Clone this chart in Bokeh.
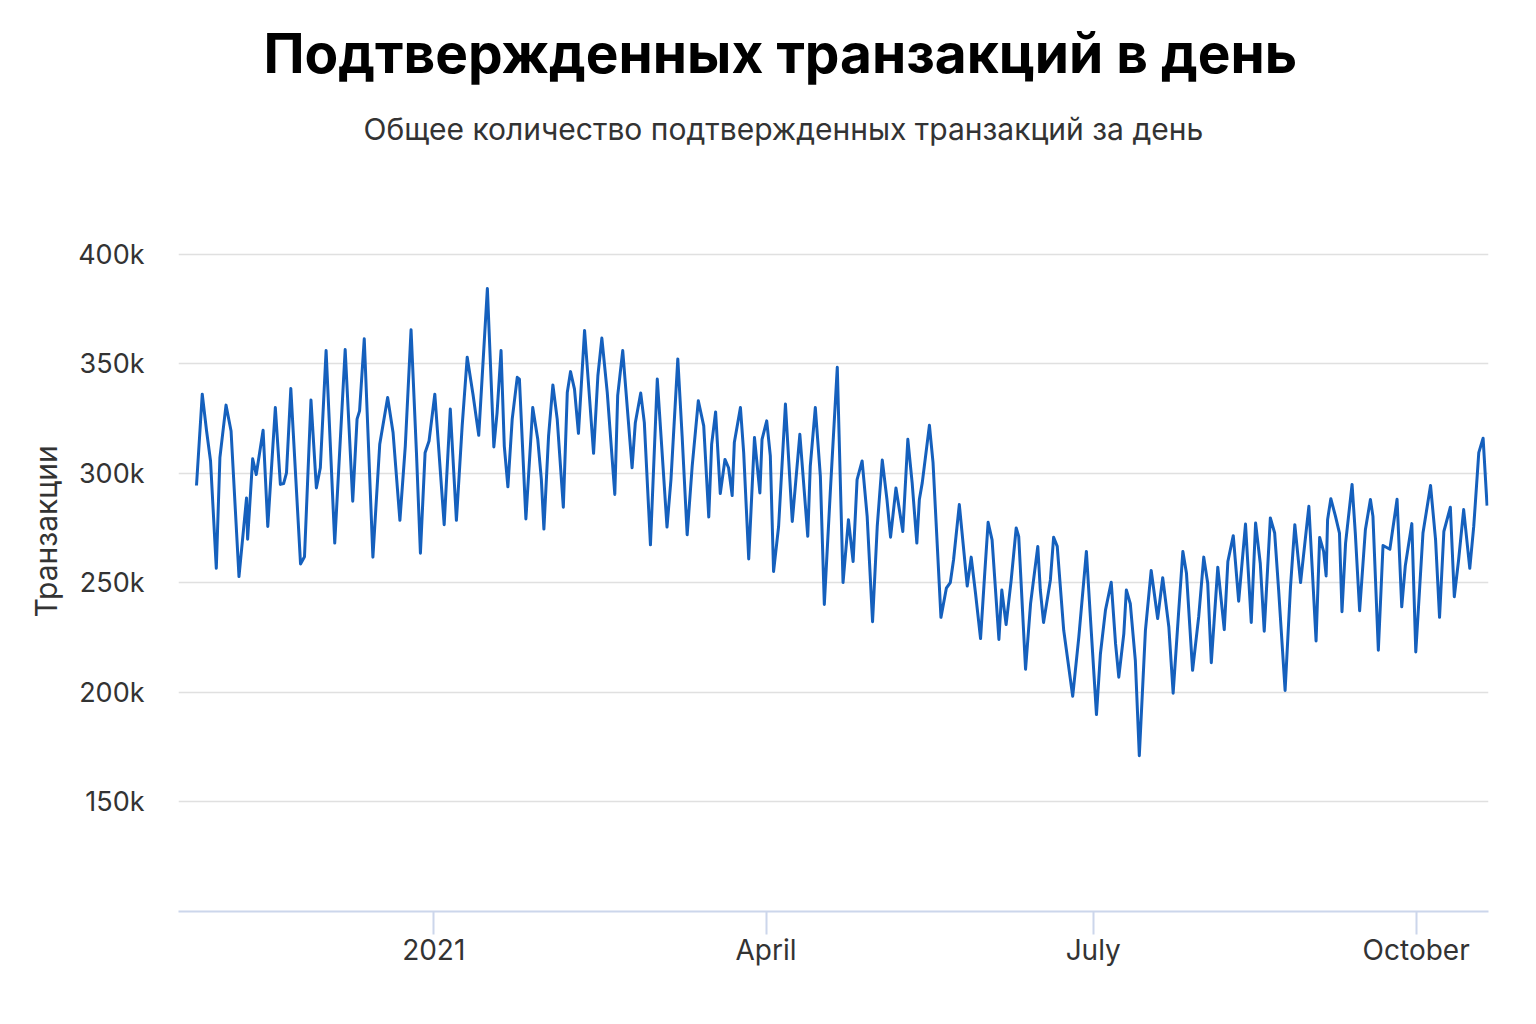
import pandas as pd
from bokeh.plotting import figure
from bokeh.models import Title, FixedTicker, NumeralTickFormatter, Range1d, ColumnDataSource
from bokeh.embed import file_html
from bokeh.resources import INLINE

# ---- data ----
base_date = "2021-01-01"
# days relative to base_date of each visible turning point of the line
day_offsets = [
    -65.9, -64.3, -63.1, -62.0, -60.4, -59.4, -57.7, -56.3, -54.1, -52.0,
    -51.7, -50.3, -49.3, -47.4, -46.1, -44.0, -42.6, -41.7, -40.9, -39.7,
    -37.0, -35.9, -34.1,
    -32.6, -31.5, -29.9, -27.5, -24.6, -22.5, -21.3, -20.6, -19.3, -16.9,
    -15.0, -12.8, -11.3, -9.4, -7.9, -6.3, -4.8, -3.7, -2.4, -1.3, 0.3,
    2.9, 4.6, 6.3, 7.9, 9.3, 10.9, 12.5, 14.9, 16.7, 17.6,
    18.7, 19.6, 20.6, 21.8, 23.2, 23.8, 25.6, 27.5, 28.9, 29.9,
    30.6, 31.9, 33.1, 34.3, 36.0, 37.1, 38.0,
    39.1, 40.2, 41.9, 43.3, 44.4, 45.6, 46.7, 48.2, 50.3, 51.1,
    52.5, 55.1, 56.0, 57.5, 58.5, 60.2, 62.1, 63.2, 64.8, 65.9,
    67.8, 69.0, 70.4, 71.8, 73.5, 75.0, 76.4, 77.2, 78.3,
    79.6, 80.9, 81.9, 82.9, 83.5, 85.2, 86.1, 87.5, 89.1, 90.6,
    91.2, 92.5, 93.5, 94.4, 95.8, 97.7, 99.6, 101.7, 103.9, 104.6,
    106.0, 107.4, 108.5, 110.2, 112.1, 113.7, 115.2,
    116.5, 117.6, 119.0, 120.4, 121.9, 123.2, 124.6, 125.9, 126.9, 128.4,
    130.3, 131.7, 132.9, 134.2, 134.9, 135.7, 137.7, 138.7, 140.9, 142.4,
    143.5, 144.4, 146.0, 148.2, 149.3, 150.5, 151.9, 153.0, 154.0, 155.1,
    157.0, 157.8, 159.0, 160.4, 161.8, 162.5, 164.4, 165.8, 167.8, 168.5,
    169.4, 171.3, 172.2, 173.2, 175.0, 177.5, 179.2, 181.3, 182.4, 184.1,
    185.2, 186.6, 188.2, 189.4, 190.3, 191.7, 192.4, 193.5, 194.9, 196.0,
    197.7, 199.3, 201.1, 202.5, 204.2, 205.4, 206.9, 208.1, 209.1, 210.8,
    212.5, 213.9, 215.0, 216.0, 217.8, 219.6, 220.6, 222.1, 223.6, 225.5,
    227.1, 228.3, 229.6, 230.7, 232.4,
    233.6, 234.7, 236.5, 238.0, 239.2, 240.8, 243.1, 244.0, 245.1, 246.1,
    247.2, 247.9, 248.3, 249.2, 250.5, 251.6, 252.3, 253.3, 255.1, 256.0,
    257.2, 258.8, 260.2, 260.9, 262.4, 263.7, 265.6, 267.6, 268.9, 269.9,
    271.7, 272.8,
    273.9, 274.8, 276.9, 278.3, 279.4, 280.6, 282.4, 283.5, 284.7, 286.1,
    287.8, 288.9, 290.3, 291.5, 292.6,
]
# confirmed transactions per day, thousands
transactions_k = [
    294.5, 336.2, 319.4, 305.7, 256.7, 307.2, 331.2, 319.4, 252.9, 288.8,
    270.0, 306.7, 299.5, 319.7, 275.8, 330.1, 295.0, 295.4, 300.3, 338.8,
    258.7, 262.0, 333.5,
    293.4, 302.6, 356.1, 268.2, 356.6, 287.3, 324.8, 328.6, 361.5, 261.8,
    313.3, 334.7, 318.7, 278.6, 312.5, 365.6, 309.5, 263.6, 309.5, 314.8, 336.2,
    276.6, 329.4, 278.6, 321.7, 353.1, 336.2, 317.4, 384.4, 312.1, 327.8,
    356.1, 312.5, 293.9, 324.8, 343.9, 343.1, 279.2, 330.1, 315.6, 297.2,
    274.6, 317.1, 340.4, 324.8, 284.6, 337.0, 346.5,
    338.5, 318.3, 365.3, 334.0, 309.2, 344.6, 361.8, 337.0, 290.4, 335.5,
    356.1, 302.6, 323.2, 336.7, 323.2, 267.4, 343.1, 315.6, 275.5, 297.2,
    352.3, 317.1, 272.0, 303.4, 333.2, 321.7, 280.1, 313.3, 328.1,
    290.8, 306.4, 302.6, 289.9, 314.1, 330.1, 309.5, 261.0, 316.4, 291.1,
    315.6, 324.0, 308.0, 255.2, 275.8, 331.7, 278.1, 317.9, 271.3, 303.4,
    330.1, 298.8, 240.2, 292.7, 348.5, 250.2, 278.9,
    259.8, 297.2, 305.7, 280.4, 232.3, 275.8, 306.1, 288.1, 270.9, 293.4,
    273.5, 315.6, 295.7, 268.2, 288.1, 295.7, 322.0, 304.9, 234.3, 247.6,
    250.2, 260.6, 285.8, 248.6, 261.8, 245.3, 224.6, 252.9, 277.7, 269.7,
    224.2, 246.8, 231.0, 251.2, 275.1, 271.3, 210.6, 240.7, 266.7, 246.8,
    232.0, 251.4, 270.9, 266.7, 228.4, 198.3, 225.4, 264.4, 234.6, 189.9,
    217.7, 237.6, 250.3, 222.3, 207.0, 226.9, 246.8, 240.5, 214.5, 171.1,
    228.4, 255.7, 233.8, 252.4, 230.0, 199.7, 236.1, 264.4, 254.4, 210.1,
    234.6, 261.8, 249.9, 213.6, 257.2, 228.7, 259.8, 271.6, 241.7, 276.9,
    232.0, 277.4, 259.0, 228.0, 279.7,
    272.8, 246.8, 200.9, 248.3, 276.6, 250.2, 285.0, 257.5, 223.5, 270.8,
    264.4, 253.2, 278.9, 288.5, 280.4, 272.8, 236.9, 268.2, 295.0, 272.8,
    237.3, 274.3, 288.1, 280.4, 219.3, 267.1, 265.4, 288.2, 239.1, 258.0,
    277.1, 218.5,
    248.3, 272.8, 294.5, 269.7, 234.3, 273.5, 284.6, 243.7, 260.6, 283.5,
    256.7, 275.8, 309.5, 316.1, 285.3,
]

x_tick_days = [0.0, 92.3, 183.2, 272.9]
x_tick_labels = ["2021", "April", "July", "October"]
y_ticks = [150000, 200000, 250000, 300000, 350000, 400000]

title_text = "Подтвержденных транзакций в день"
subtitle_text = "Общее количество подтвержденных транзакций за день"
y_label = "Транзакции"

# ---- build ----
base = pd.Timestamp(base_date)
dates = base + pd.to_timedelta(day_offsets, unit="D")
source = ColumnDataSource(dict(date=dates, value=[v * 1000 for v in transactions_k]))

def to_ms(d):
    return int(round((base + pd.Timedelta(days=d)).value / 1e6))

tick_ms = [to_ms(d) for d in x_tick_days]

FONT = "Inter"
p = figure(
    width=1528, height=1016,
    x_axis_type="datetime",
    x_range=Range1d(to_ms(-70.9), to_ms(293.0)),
    y_range=Range1d(100000, 447000),
    output_backend="svg", toolbar_location=None,
    min_border_left=178, min_border_right=40, min_border_bottom=105, min_border_top=151,
    background_fill_color="white", border_fill_color="white",
)
p.outline_line_color = None

sub = Title(text=subtitle_text, align="left", text_font=FONT, text_font_size="30px",
            text_font_style="normal", text_color="#333333", offset=185)
gap = Title(text=" ", text_font=FONT, text_font_size="1px")
main = Title(text=title_text, align="left", text_font=FONT, text_font_size="55px",
             text_font_style="bold", text_color="#000000", offset=85)
p.add_layout(sub, "above")
p.add_layout(gap, "above")
p.add_layout(main, "above")

p.line("date", "value", source=source, line_width=3, line_color="#1560bd", line_join="round")

# x axis
xa = p.xaxis[0]
xa.ticker = FixedTicker(ticks=tick_ms)
xa.major_label_overrides = {t: lab for t, lab in zip(tick_ms, x_tick_labels)}
xa.axis_line_color = "#ccd6eb"
xa.axis_line_width = 2
xa.major_tick_line_color = "#ccd6eb"
xa.major_tick_line_width = 2
xa.major_tick_in = 0
xa.major_tick_out = 23
xa.minor_tick_line_color = None
xa.major_label_standoff = -2
xa.major_label_text_font = FONT
xa.major_label_text_font_size = "28px"
xa.major_label_text_color = "#333333"

# y axis
ya = p.yaxis[0]
ya.ticker = FixedTicker(ticks=y_ticks)
ya.formatter = NumeralTickFormatter(format="0a")
ya.axis_line_color = None
ya.major_tick_line_color = None
ya.minor_tick_line_color = None
ya.major_tick_in = 0
ya.major_tick_out = 0
ya.major_label_standoff = 34
ya.major_label_text_font = FONT
ya.major_label_text_font_size = "27px"
ya.major_label_text_color = "#333333"
ya.axis_label = y_label
ya.axis_label_text_font = FONT
ya.axis_label_text_font_size = "30px"
ya.axis_label_text_font_style = "normal"
ya.axis_label_text_color = "#333333"
ya.axis_label_standoff = 11

p.xgrid.grid_line_color = None
p.ygrid.grid_line_color = "#e0e0e0"
p.ygrid.grid_line_width = 1.5
p.ygrid.ticker = FixedTicker(ticks=y_ticks)

open("out.html", "w").write(file_html(p, INLINE))
